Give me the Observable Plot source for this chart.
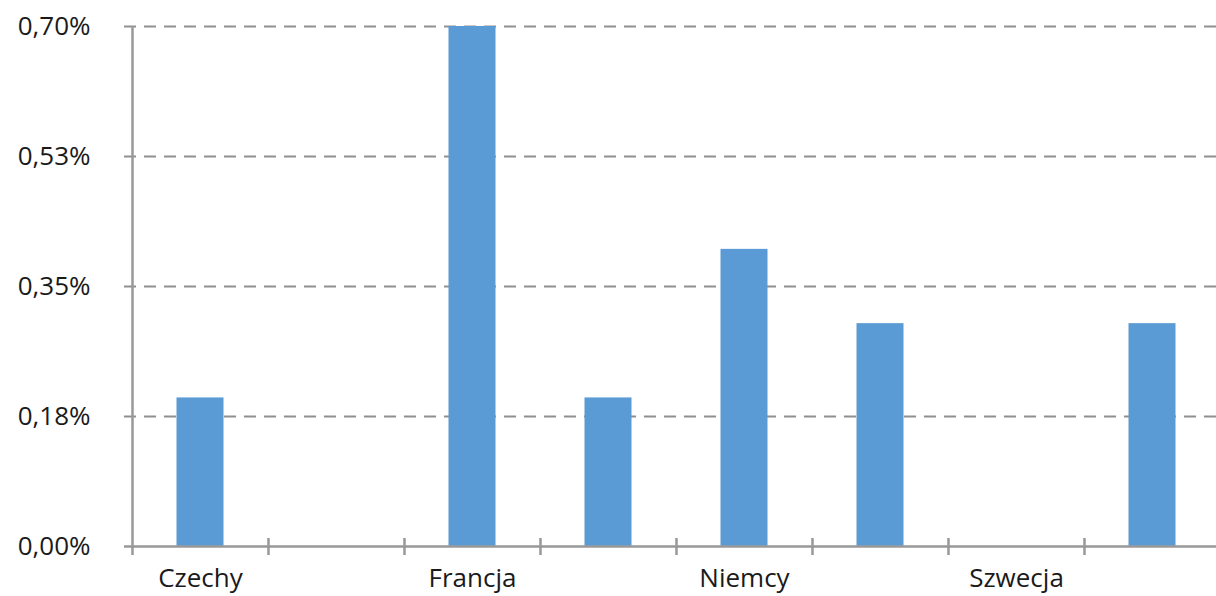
<!DOCTYPE html>
<html>
<head>
<meta charset="utf-8">
<script src="https://cdn.jsdelivr.net/npm/d3@7"></script>
<script src="https://cdn.jsdelivr.net/npm/@observablehq/plot@0.6"></script>
<style>
  html, body { margin: 0; padding: 0; background: #fff; }
  #chart svg { display: block; }
</style>
</head>
<body>
<div id="chart"></div>
<script>
const categories = ["Czechy", "", "Francja", "", "Niemcy", "", "Szwecja", ""];
const values = [0.20, null, 0.70, 0.20, 0.40, 0.30, null, 0.30];
const yTicks = [0, 0.175, 0.35, 0.525, 0.70];
const yTickLabels = ["0,00%", "0,18%", "0,35%", "0,53%", "0,70%"];

const rows = categories.map((c, i) => ({i, label: c, value: values[i]}));
const bars = rows.filter(d => d.value != null);
const slotEdges = d3.range(0, categories.length + 1);

const font = "'Open Sans', Lato, sans-serif";
const axisColor = "#999";
const textColor = "#1a1a1a";

const chart = Plot.plot({
  width: 1216,
  height: 596,
  marginTop: 26,
  marginBottom: 50,
  marginLeft: 132,
  marginRight: -4,
  style: {fontFamily: font, fontSize: "26px", color: textColor, background: "#fff", overflow: "hidden"},
  x: {domain: [0, categories.length], axis: null},
  y: {domain: [0, 0.70], axis: null},
  marks: [
    // dashed gridlines
    Plot.ruleY(yTicks.filter(t => t > 0), {stroke: "#8f8f8f", strokeWidth: 2.2, strokeDasharray: "12,8", insetLeft: -8}),
    // bars
    Plot.rectY(bars, {x1: d => d.i, x2: d => d.i + 1, y: "value", fill: "#5b9bd5", insetLeft: 44.5, insetRight: 44.5}),
    // x axis line
    Plot.ruleY([0], {stroke: axisColor, strokeWidth: 2.5, insetLeft: -8}),
    // y axis line
    Plot.ruleX([0], {stroke: axisColor, strokeWidth: 2.5, insetBottom: -9}),
    // x tick marks at slot boundaries
    Plot.ruleX(slotEdges.slice(1, -1), {y1: 0, y2: 0, stroke: axisColor, strokeWidth: 2.5, insetTop: -8, insetBottom: -9}),
    // y tick labels
    Plot.text(yTicks, {x: 0, y: d => d, text: (d, i) => yTickLabels[i], textAnchor: "end", dx: -42, fill: textColor, fontSize: 26}),
    // category labels
    Plot.text(rows, {x: d => d.i + 0.5, y: 0, text: "label", dy: 32, fill: textColor, fontSize: 26})
  ]
});
document.getElementById("chart").appendChild(chart);
</script>
</body>
</html>
